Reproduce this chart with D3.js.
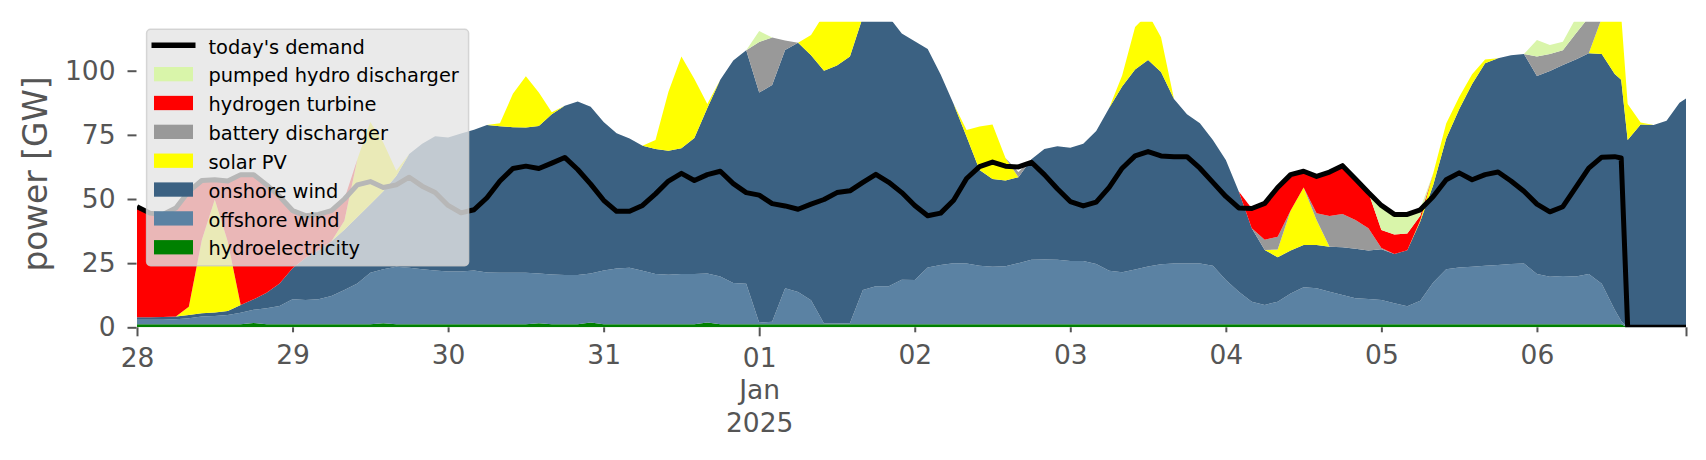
<!DOCTYPE html>
<html><head><meta charset="utf-8">
<script src="https://cdn.jsdelivr.net/npm/d3@7"></script>
<style>html,body{margin:0;padding:0;background:#fff;}svg{display:block;font-family:"DejaVu Sans",sans-serif;}</style>
</head><body>
<svg id="chart" width="1706" height="460"></svg>
<script>
// sample hours since 28 Dec 2024 00:00 (2-hourly, plus 229 and 239)
const hours = [...d3.range(0, 229, 2), 229, ...d3.range(230, 240, 2), 239];

// GW, one row per day
const demand = [
 47,44.5,44,46.5,53,57.2,57.5,57,59.5,59.5,55.5,51,
 45.5,43.5,44,45.5,50,55.5,56.8,54.5,55.5,58.5,55,52.5,
 47.5,44.6,45.8,50.5,57,61.9,62.8,61.9,64,66.2,61.5,55.8,
 49.5,45.2,45.2,47.5,52,57,60,57.2,59.5,60.8,56,52.5,
 51.5,48.2,47.3,46,48,49.8,52.5,53.2,56.5,59.6,56.5,52.5,
 47.5,43.5,44.5,49.5,58,62.6,64.4,62.8,62.5,64.3,59.5,54,
 49,47.3,48.8,54.5,62,66.8,68.5,66.8,66.5,66.5,62,56.5,
 51,46.5,46.3,48.3,54.5,59.5,60.8,58.8,60.5,63,57.8,52.5,
 47.5,44,44,45.8,51,57.5,60.2,57.5,59.5,60.5,57,53,
 48,45,47,54.5,62,66.3,66.5,66,0,0,0,0,0,0];

const hydro = [
 1.2,1.2,1.2,1.2,1.2,1.2,1.2,1.2,1.2,1.7,1.2,1.2,
 1.2,1.2,1.2,1.2,1.2,1.2,1.2,1.6,1.2,1.2,1.2,1.2,
 1.2,1.2,1.2,1.2,1.2,1.2,1.2,1.6,1.2,1.2,1.2,1.9,
 1.2,1.2,1.2,1.2,1.2,1.2,1.2,1.2,1.9,1.2,1.2,1.2,
 1.2,1.2,1.2,1.2,1.2,1.2,1.2,1.2,1.2,1.2,1.2,1.2,
 1.2,1.2,1.2,1.2,1.2,1.2,1.2,1.2,1.2,1.2,1.2,1.2,
 1.2,1.2,1.2,1.2,1.2,1.2,1.2,1.2,1.2,1.2,1.2,1.2,
 1.2,1.2,1.2,1.2,1.2,1.2,1.2,1.2,1.2,1.2,1.2,1.2,
 1.2,1.2,1.2,1.2,1.2,1.2,1.2,1.2,1.2,1.2,1.2,1.2,
 1.2,1.2,1.2,1.2,1.2,1.2,1.2,1.2,0,0,0,0,0,0];

const offshore = [
 1.7,1.7,1.7,1.9,2.3,3.0,3.2,3.6,4.5,5.1,6.2,7.1,
 9.7,9.4,9.7,11.0,13.3,15.9,20.1,21.0,22.4,22.0,21.4,20.9,
 20.5,20.5,20.9,20.2,20.1,20.1,20.1,19.4,19.4,19.2,19.2,19.1,
 20.9,21.7,22.0,20.8,19.6,19.3,19.6,19.6,19.1,18.6,16.1,15.8,
 0.6,1.0,14.0,12.6,9.3,0.3,0.3,0.4,13.3,14.8,14.8,17.3,
 17.2,22.1,23.1,23.8,23.7,22.8,22.4,22.6,23.8,25.1,25.2,25.1,
 24.6,24.6,23.5,20.8,20.3,21.3,22.5,23.4,23.7,23.7,23.7,22.8,
 17.2,12.7,8.8,7.5,8.8,12.0,14.4,14.0,12.7,11.4,10.1,9.8,
 9.4,8.2,7.0,9.1,16.3,21.4,22.1,22.4,22.8,23.1,23.5,23.7,
 19.6,18.5,18.8,18.6,19.6,15.8,5.6,1.3,0,0,0,0,0,0];

const onshore = [
 1.0,1.0,1.1,1.1,1.3,1.3,1.4,1.6,3.0,4.1,6.1,8.8,
 12.1,16.4,19.1,21.3,23.5,25.9,26.7,30.4,35.4,44.3,48.9,52.4,
 52.3,53.8,54.9,57.4,57.1,56.7,56.6,57.5,62.4,65.9,67.6,65.0,
 57.9,52.7,50.4,48.8,48.7,48.3,49.0,53.0,64.5,76.7,86.7,91.0,
 89.7,92.2,92.9,97.1,95.5,98.5,100.5,103.9,106.5,108,105,96,
 93.1,85.2,74.2,62,49.4,37.3,34.2,33.4,33.5,39.2,43.1,44.3,
 44.2,45.7,51.8,63.5,72.3,78,80.5,74.9,64.1,58.1,54.6,49,
 46.8,39,28.6,21.4,17.3,16.7,16.5,16.9,17.5,18.6,19.3,18.9,
 19.8,19.2,21.8,30.9,38,51,61.7,71.2,78.9,80.6,81.3,81.6,
 77.1,80.2,82.2,84.6,86,89.5,91.9,94,73,79,78.8,80.5,87.5,89.2];

const solar = [
 0,0,0,0,3.2,28.5,44,27,0,0,0,0,
 0,0,0,0,3.5,22.5,32,19,2,0,0,0,
 0,0,0,0,1.1,13,19.9,13,0.8,0,0,0,
 0,0,0,0,3.5,23,35.7,23,1.5,0,0,0,
 0,0,0,0,7.9,22,24,20,0,0,0,0,
 0,0,0,0,2.6,17,21.2,8.8,0,0,0,0,
 0,0,0,0,4.3,16.5,18,13.5,0,0,0,0,
 0,0,0,0,3,15.6,22.4,9.7,0,0,0,0,
 0,0,0,0.5,4.5,5.8,4.8,3.8,1.5,0,0,0,
 0,0,0,0,0,14,24,25,14,0.8,0,0,0,0];

const battery = [
 0,0,0,0,0,0,0,0,0,0,0,0,
 0,0,0,0,0,0,0,0,0,0,0,0,
 0,0,0,0,0,0,0,0,0,0,0,0,
 0,0,0,0,0,0,0,0,0,0,0,0,
 19.7,18.5,3.7,0,0,0,0,0,0,0,0,0,
 0,0,0,0,0,0,0,0,2,0,0,0,
 0,0,0,0,0,0,0,0,0,0,0,0,
 0,0,0,4,5,0,0,2.6,12,13,11.2,8.7,
 0.5,0,0,0,0,0,0,0,0,0,0,0,
 7.6,6.6,5.8,10.1,14,0,0,0,0,0,0,0,0,0];

const hydrogen = [
 43.1,40.6,40,42.3,45,23.2,7.6,23.6,50.8,48.6,42,33.9,
 22.5,16.5,14,12,8.5,0,0,0,0,0,0,0,
 0,0,0,0,0,0,0,0,0,0,0,0,
 0,0,0,0,0,0,0,0,0,0,0,0,
 0,0,0,0,0,0,0,0,0,0,0,0,
 0,0,0,0,0,0,0,0,0,0,0,0,
 0,0,0,0,0,0,0,0,0,0,0,0,
 0,0,7.7,14.2,19.2,14,6.3,14.4,17.1,18.8,16,13.9,
 7.0,7.6,6.6,1.8,0,0,0,0,0,0,0,0,
 0,0,0,0,0,0,0,0,0,0,0,0,0,0];

const pumped = [
 0,0,0,0,0,0,0,0,0,0,0,0,
 0,0,0,0,0,0,0,0,0,0,0,0,
 0,0,0,0,0,0,0,0,0,0,0,0,
 0,0,0,0,0,0,0,0,0,0,0,0,
 4.3,0,0,0,0,0,0,0,0,0,0,0,
 0,0,0,0,0,0,0,0,0,0,0,0,
 0,0,0,0,0,0,0,0,0,0,0,0,
 0,0,0,0,0,0,0,0,0,0,0,0,
 9.6,7.8,7.4,2.8,0,0,0,0,0,0,0,0,
 6.5,3.5,3.3,6,0,0,0,0,0,0,0,0,0,0];

const yTicks = [0, 25, 50, 75, 100];
const seriesKeys = ["hydro","offshore","onshore","solar","battery","hydrogen","pumped"];
const seriesLabels = {hydro:"hydroelectricity", offshore:"offshore wind", onshore:"onshore wind",
  solar:"solar PV", battery:"battery discharger", hydrogen:"hydrogen turbine", pumped:"pumped hydro discharger"};
const colors = {hydro:"#008000", offshore:"#5b82a3", onshore:"#3b6182", solar:"#ffff00",
  battery:"#999999", hydrogen:"#ff0000", pumped:"#d9f5aa"};

const start = new Date(2024, 11, 28, 0, 0);
const times = hours.map(h => d3.timeHour.offset(start, h));
const endT = d3.timeHour.offset(start, 239);
const L = 137, R = 1686, B = 327.3, T = 21.7;
const x = d3.scaleTime().domain([start, endT]).range([L, R]);
const y = d3.scaleLinear().domain([0, 119.1]).range([B, T]);

const svg = d3.select("#chart");
svg.append("defs").append("clipPath").attr("id", "pc").append("rect")
  .attr("x", L).attr("y", T).attr("width", R - L).attr("height", B - T);

const series = {hydro, offshore, onshore, solar, battery, hydrogen, pumped};
const rows = times.map((t, i) => {
  const r = {t, demand: demand[i]};
  seriesKeys.forEach(k => r[k] = series[k][i]);
  return r;
});
const stacked = d3.stack().keys(seriesKeys)(rows);
const area = d3.area().x(d => x(d.data.t)).y0(d => y(d[0])).y1(d => y(d[1]));
const plot = svg.append("g").attr("clip-path", "url(#pc)");
plot.selectAll("path.layer").data(stacked).join("path")
  .attr("class", "layer").attr("fill", d => colors[d.key]).attr("d", area);
const line = d3.line().x(d => x(d.t)).y(d => y(d.demand));
plot.append("path").datum(rows).attr("fill", "none").attr("stroke", "#000")
  .attr("stroke-width", 5).attr("stroke-linejoin", "round").attr("d", line);

// axes
const tickCol = "#555555";
const days = d3.range(0, 10).map(i => d3.timeDay.offset(start, i));
const majorT = [days[0], days[4], endT];
const minorT = days.filter((d, i) => i !== 0 && i !== 4);
const gMinor = svg.append("g").attr("transform", `translate(0,${B})`)
  .call(d3.axisBottom(x).tickValues(minorT).tickSize(5).tickPadding(13).tickFormat(d3.timeFormat("%d")));
const gMajor = svg.append("g").attr("transform", `translate(0,${B})`)
  .call(d3.axisBottom(x).tickValues(majorT).tickSize(9).tickPadding(12)
    .tickFormat(d => (+d === +endT) ? "" : d3.timeFormat("%d")(d)));
gMajor.selectAll(".tick text").each(function(d) {
  if (+d === +days[4]) {
    const t = d3.select(this);
    t.append("tspan").attr("x", 0).attr("dy", "1.22em").text("Jan");
    t.append("tspan").attr("x", 0).attr("dy", "1.22em").text("2025");
  }
});
const gy = svg.append("g").attr("transform", `translate(${L - 0.5},0)`)
  .call(d3.axisLeft(y).tickValues(yTicks).tickSize(9).tickPadding(12));
[gMinor, gMajor, gy].forEach(g => {
  g.select(".domain").remove();
  g.selectAll(".tick line").attr("stroke", tickCol).attr("stroke-width", 2);
  g.selectAll(".tick text").attr("fill", tickCol).style("font-size", "26.5px")
    .style("font-family", '"DejaVu Sans", sans-serif');
});
svg.append("text").attr("transform", "translate(47,174) rotate(-90)")
  .attr("text-anchor", "middle").attr("fill", tickCol)
  .style("font-size", "32.8px").text("power [GW]");

// legend
const lg = svg.append("g");
lg.append("rect").attr("x", 146.6).attr("y", 29.3).attr("width", 322).attr("height", 236.4)
  .attr("rx", 4).attr("fill", "#e5e5e5").attr("fill-opacity", 0.8)
  .attr("stroke", "#cccccc").attr("stroke-opacity", 0.8).attr("stroke-width", 1.5);
const legendItems = [{key: "demand", label: "today's demand"}]
  .concat(seriesKeys.slice().reverse().map(k => ({key: k, label: seriesLabels[k]})));
legendItems.forEach((it, i) => {
  const cy = 45.3 + i * 28.85;
  if (it.key === "demand") {
    lg.append("line").attr("x1", 151.5).attr("x2", 195.5).attr("y1", cy).attr("y2", cy)
      .attr("stroke", "#000").attr("stroke-width", 5.5);
  } else {
    lg.append("rect").attr("x", 154).attr("y", cy - 7.15).attr("width", 39).attr("height", 14.3)
      .attr("fill", colors[it.key]);
  }
  lg.append("text").attr("x", 208.5).attr("y", cy + 8.2).attr("fill", "#000")
    .style("font-size", "19.4px").text(it.label);
});
</script>
</body></html>
